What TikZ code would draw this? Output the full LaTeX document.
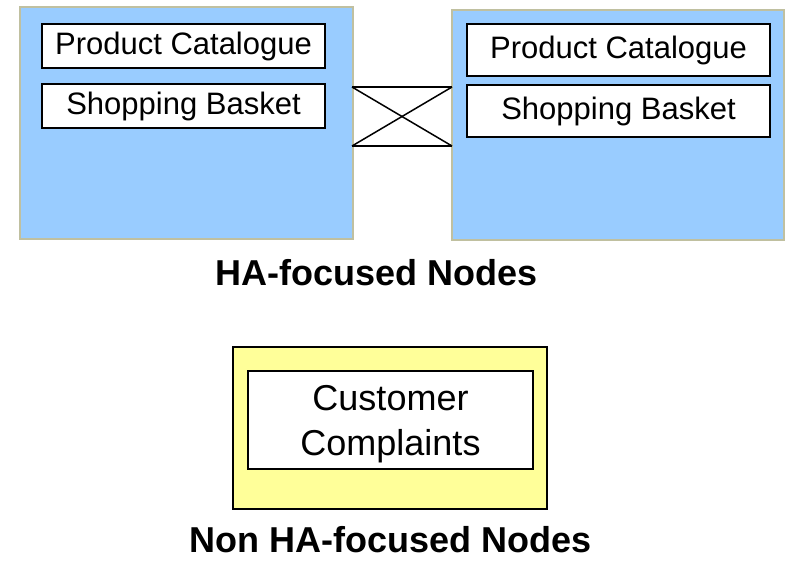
\documentclass[tikz,border=0pt]{standalone}
\usepackage{fontspec}
\setmainfont{Liberation Sans}
\definecolor{nodeblue}{HTML}{99CCFF}
\definecolor{nodeedge}{HTML}{C0C0A0}
\definecolor{nodeyellow}{HTML}{FFFF99}
\begin{document}
\begin{tikzpicture}[x=1pt,y=-1pt,
  hanode/.style={draw=nodeedge, line width=2.5pt, fill=nodeblue, inner sep=0pt, rectangle},
  plainnode/.style={draw=black, line width=1.5pt, fill=nodeyellow, inner sep=0pt, rectangle},
  component/.style={draw=black, line width=1.5pt, fill=white, inner sep=0pt, rectangle, align=center,
    font=\fontsize{31}{36}\selectfont},
  caption/.style={font=\fontsize{36}{43}\selectfont\bfseries, inner sep=0pt, anchor=base},
  link/.style={draw=black, line width=1.5pt}
]
\useasboundingbox (0,0) rectangle (786,560);

% HA-focused nodes
\node[hanode, minimum width=333pt, minimum height=232pt] (left) at (186.5,123) {};
\node[hanode, minimum width=332pt, minimum height=230pt] (right) at (618,125) {};

\node[component, minimum width=283pt, minimum height=44pt] (lcat) at (183.5,46) {Product Catalogue};
\node[component, minimum width=283pt, minimum height=44pt] (lbask) at (183.5,106) {Shopping Basket};
\node[component, minimum width=303pt, minimum height=52pt] (rcat) at (618.5,50) {Product Catalogue};
\node[component, minimum width=303pt, minimum height=52pt] (rbask) at (618.5,111) {Shopping Basket};

% link between the two nodes
\coordinate (lt) at (352,87);
\coordinate (lb) at (352,146);
\coordinate (rt) at (452,87);
\coordinate (rb) at (452,146);
\draw[link] (lt) -- (rt);
\draw[link] (lb) -- (rb);
\draw[link] (lt) -- (rb);
\draw[link] (lb) -- (rt);

\node[caption] (hacap) at (377,285) {HA-focused Nodes};

% Non HA-focused node
\node[plainnode, minimum width=314pt, minimum height=162pt] (single) at (390,428) {};
\node[component, minimum width=285pt, minimum height=98pt] (cc) at (390.5,420) {};
\node[align=center, inner sep=0pt, font=\fontsize{36}{45}\selectfont] (cctext) at (390.5,424) {Customer\\Complaints};

\node[caption] (nonhacap) at (391,552) {Non HA-focused Nodes};
\end{tikzpicture}
\end{document}
